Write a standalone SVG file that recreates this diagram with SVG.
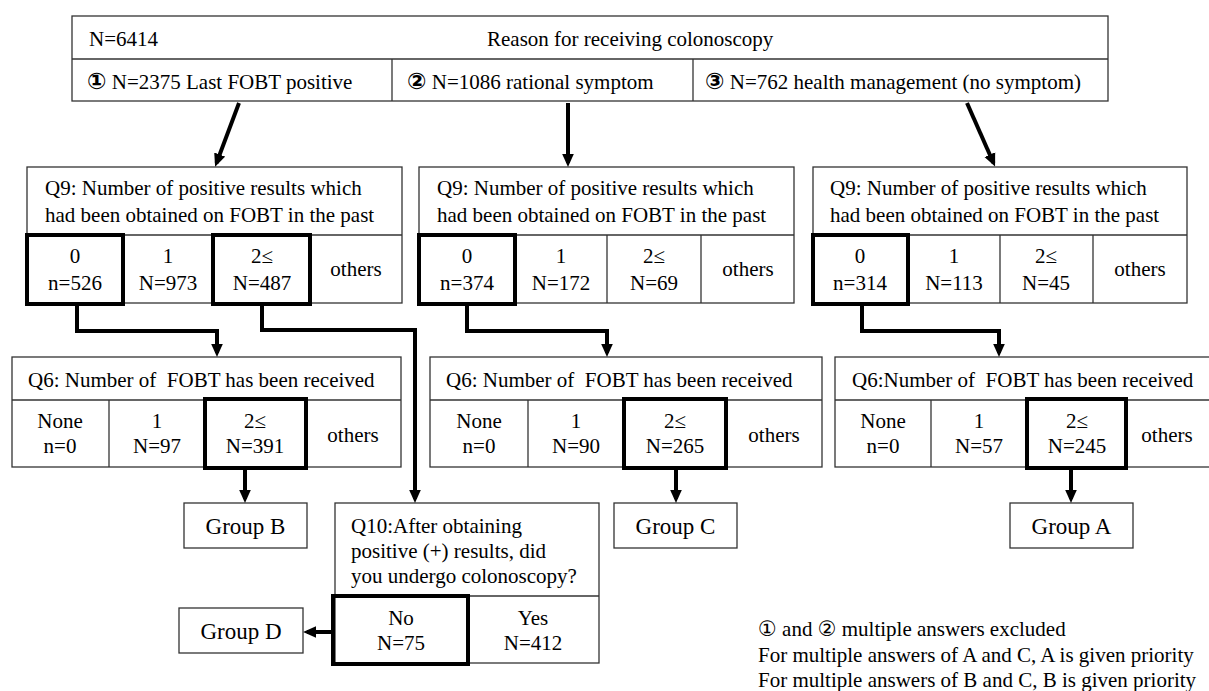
<svg xmlns="http://www.w3.org/2000/svg" width="1209" height="691" viewBox="0 0 1209 691">
<style>
.box{fill:#fff;stroke:#333;stroke-width:1.3}
.ln{fill:none;stroke:#333;stroke-width:1.3}
.bold{fill:none;stroke:#000;stroke-width:4}
.t{font-family:"Liberation Serif","Times New Roman",serif;font-size:21px;fill:#000;white-space:pre}
.c{text-anchor:middle}
.g{font-size:23px}
.circ{font-family:"DejaVu Sans","Noto Sans CJK JP",sans-serif;font-size:23px}
.circn{font-family:"DejaVu Sans","Noto Sans CJK JP",sans-serif;font-size:21px}
.conn{fill:none;stroke:#000;stroke-width:4}
</style>
<defs>
<marker id="ah" viewBox="0 0 10 10" refX="7" refY="5" markerWidth="13" markerHeight="13" markerUnits="userSpaceOnUse" orient="auto">
<path d="M0,0.5 L10,5 L0,9.5 z" fill="#000"/>
</marker>
</defs>

<g id="top">
<rect class="box" x="72" y="16" width="1036" height="85"/>
<line class="ln" x1="72" y1="59" x2="1108" y2="59"/>
<line class="ln" x1="392" y1="59" x2="392" y2="101"/>
<line class="ln" x1="693" y1="59" x2="693" y2="101"/>
<text class="t" x="89" y="46">N=6414</text>
<text class="t" x="487" y="46">Reason for receiving colonoscopy</text>
<text class="t" x="87" y="89"><tspan class="circ" font-weight="bold">①</tspan> N=2375 Last FOBT positive</text>
<text class="t" x="407" y="89"><tspan class="circ" font-weight="bold">②</tspan> N=1086 rational symptom</text>
<text class="t" x="705" y="89"><tspan class="circ" font-weight="bold">③</tspan> N=762 health management (no symptom)</text>
</g>

<g id="q9-left">
<rect class="box" x="27" y="167" width="375" height="136"/>
<line class="ln" x1="27" y1="235" x2="402" y2="235"/>
<line class="ln" x1="123" y1="235" x2="123" y2="303"/>
<line class="ln" x1="213" y1="235" x2="213" y2="303"/>
<line class="ln" x1="310" y1="235" x2="310" y2="303"/>
<rect class="bold" x="27" y="235" width="96" height="69"/>
<rect class="bold" x="213" y="235" width="97" height="69"/>
<text class="t" x="45" y="195">Q9: Number of positive results which</text>
<text class="t" x="45" y="222">had been obtained on FOBT in the past</text>
<text class="t c" x="75" y="263">0</text><text class="t c" x="75" y="290">n=526</text>
<text class="t c" x="168" y="263">1</text><text class="t c" x="168" y="290">N=973</text>
<text class="t c" x="262" y="263">2≤</text><text class="t c" x="262" y="290">N=487</text>
<text class="t c" x="356" y="276">others</text>
</g>

<g id="q9-mid">
<rect class="box" x="419" y="167" width="375" height="136"/>
<line class="ln" x1="419" y1="235" x2="794" y2="235"/>
<line class="ln" x1="515" y1="235" x2="515" y2="303"/>
<line class="ln" x1="607" y1="235" x2="607" y2="303"/>
<line class="ln" x1="701" y1="235" x2="701" y2="303"/>
<rect class="bold" x="419" y="235" width="96" height="69"/>
<text class="t" x="437" y="195">Q9: Number of positive results which</text>
<text class="t" x="437" y="222">had been obtained on FOBT in the past</text>
<text class="t c" x="467" y="263">0</text><text class="t c" x="467" y="290">n=374</text>
<text class="t c" x="561" y="263">1</text><text class="t c" x="561" y="290">N=172</text>
<text class="t c" x="654" y="263">2≤</text><text class="t c" x="654" y="290">N=69</text>
<text class="t c" x="748" y="276">others</text>
</g>

<g id="q9-right">
<rect class="box" x="813" y="167" width="374" height="136"/>
<line class="ln" x1="813" y1="235" x2="1187" y2="235"/>
<line class="ln" x1="908" y1="235" x2="908" y2="303"/>
<line class="ln" x1="1000" y1="235" x2="1000" y2="303"/>
<line class="ln" x1="1093" y1="235" x2="1093" y2="303"/>
<rect class="bold" x="813" y="235" width="95" height="69"/>
<text class="t" x="830" y="195">Q9: Number of positive results which</text>
<text class="t" x="830" y="222">had been obtained on FOBT in the past</text>
<text class="t c" x="860" y="263">0</text><text class="t c" x="860" y="290">n=314</text>
<text class="t c" x="954" y="263">1</text><text class="t c" x="954" y="290">N=113</text>
<text class="t c" x="1046" y="263">2≤</text><text class="t c" x="1046" y="290">N=45</text>
<text class="t c" x="1140" y="276">others</text>
</g>

<g id="q6-left">
<rect class="box" x="12" y="357" width="389" height="110"/>
<line class="ln" x1="12" y1="400" x2="401" y2="400"/>
<line class="ln" x1="109" y1="400" x2="109" y2="467"/>
<line class="ln" x1="205" y1="400" x2="205" y2="467"/>
<line class="ln" x1="306" y1="400" x2="306" y2="467"/>
<rect class="bold" x="205" y="399" width="101" height="69"/>
<text class="t" x="28" y="387">Q6: Number of  FOBT has been received</text>
<text class="t c" x="60" y="428">None</text><text class="t c" x="60" y="453">n=0</text>
<text class="t c" x="157" y="428">1</text><text class="t c" x="157" y="453">N=97</text>
<text class="t c" x="255" y="428">2≤</text><text class="t c" x="255" y="453">N=391</text>
<text class="t c" x="353" y="442">others</text>
</g>

<g id="q6-mid">
<rect class="box" x="430" y="357" width="392" height="110"/>
<line class="ln" x1="430" y1="400" x2="822" y2="400"/>
<line class="ln" x1="528" y1="400" x2="528" y2="467"/>
<line class="ln" x1="624" y1="400" x2="624" y2="467"/>
<line class="ln" x1="726" y1="400" x2="726" y2="467"/>
<rect class="bold" x="624" y="399" width="102" height="69"/>
<text class="t" x="446" y="387">Q6: Number of  FOBT has been received</text>
<text class="t c" x="479" y="428">None</text><text class="t c" x="479" y="453">n=0</text>
<text class="t c" x="576" y="428">1</text><text class="t c" x="576" y="453">N=90</text>
<text class="t c" x="675" y="428">2≤</text><text class="t c" x="675" y="453">N=265</text>
<text class="t c" x="774" y="442">others</text>
</g>

<g id="q6-right">
<rect class="box" x="835" y="357" width="380" height="110"/>
<line class="ln" x1="835" y1="400" x2="1215" y2="400"/>
<line class="ln" x1="931" y1="400" x2="931" y2="467"/>
<line class="ln" x1="1027" y1="400" x2="1027" y2="467"/>
<line class="ln" x1="1126" y1="400" x2="1126" y2="467"/>
<rect class="bold" x="1027" y="399" width="99" height="69"/>
<text class="t" x="852" y="387">Q6:Number of  FOBT has been received</text>
<text class="t c" x="883" y="428">None</text><text class="t c" x="883" y="453">n=0</text>
<text class="t c" x="979" y="428">1</text><text class="t c" x="979" y="453">N=57</text>
<text class="t c" x="1077" y="428">2≤</text><text class="t c" x="1077" y="453">N=245</text>
<text class="t c" x="1167" y="442">others</text>
</g>

<g id="group-b">
<rect class="box" x="184" y="503" width="123" height="45"/>
<text class="t g c" x="245.5" y="534">Group B</text>
</g>
<g id="group-c">
<rect class="box" x="614" y="503" width="123" height="45"/>
<text class="t g c" x="675.5" y="534">Group C</text>
</g>
<g id="group-a">
<rect class="box" x="1010" y="503" width="123" height="45"/>
<text class="t g c" x="1071.5" y="534">Group A</text>
</g>

<g id="q10">
<rect class="box" x="335" y="503" width="264" height="160"/>
<line class="ln" x1="335" y1="596" x2="599" y2="596"/>
<line class="ln" x1="468" y1="596" x2="468" y2="663"/>
<rect class="bold" x="333" y="596" width="135" height="68"/>
<text class="t" x="351" y="533">Q10:After obtaining</text>
<text class="t" x="351" y="558">positive (+) results, did</text>
<text class="t" x="351" y="583">you undergo colonoscopy?</text>
<text class="t c" x="401" y="625">No</text><text class="t c" x="401" y="650">N=75</text>
<text class="t c" x="533" y="625">Yes</text><text class="t c" x="533" y="650">N=412</text>
</g>

<g id="group-d">
<rect class="box" x="179" y="608" width="124" height="45"/>
<text class="t g c" x="241" y="639">Group D</text>
</g>

<g id="connectors">
<line class="conn" x1="239" y1="103" x2="216.5" y2="163" marker-end="url(#ah)"/>
<line class="conn" x1="568" y1="103" x2="568" y2="163" marker-end="url(#ah)"/>
<line class="conn" x1="967" y1="103" x2="993.5" y2="163" marker-end="url(#ah)"/>
<polyline class="conn" points="77,305 77,331 217,331 217,353" marker-end="url(#ah)"/>
<polyline class="conn" points="262,305 262,330 415,330 415,499" marker-end="url(#ah)"/>
<polyline class="conn" points="467,305 467,331 607,331 607,353" marker-end="url(#ah)"/>
<polyline class="conn" points="862,305 862,331 999,331 999,353" marker-end="url(#ah)"/>
<line class="conn" x1="245" y1="469" x2="245" y2="499" marker-end="url(#ah)"/>
<line class="conn" x1="676" y1="469" x2="676" y2="499" marker-end="url(#ah)"/>
<line class="conn" x1="1071" y1="469" x2="1071" y2="499" marker-end="url(#ah)"/>
<line class="conn" x1="333" y1="632" x2="307" y2="632" marker-end="url(#ah)"/>
</g>

<g id="notes">
<text class="t" x="758" y="636"><tspan class="circn">①</tspan> and <tspan class="circn">②</tspan> multiple answers excluded</text>
<text class="t" x="758" y="662">For multiple answers of A and C, A is given priority</text>
<text class="t" x="758" y="687">For multiple answers of B and C, B is given priority</text>
</g>
</svg>
